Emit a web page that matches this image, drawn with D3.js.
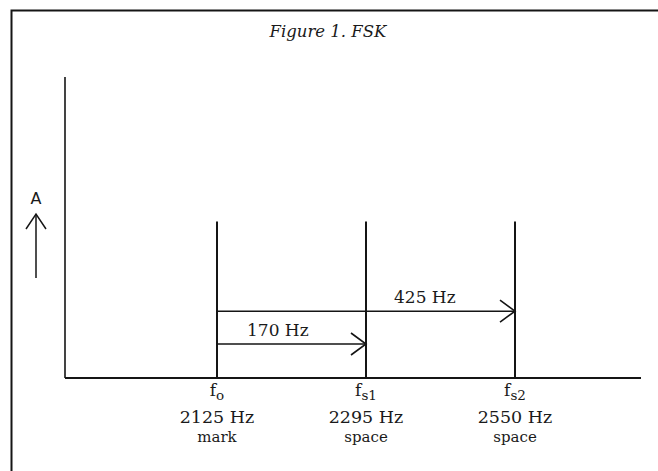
<!DOCTYPE html>
<html>
<head>
<meta charset="utf-8">
<script src="https://cdn.jsdelivr.net/npm/d3@7"></script>
<style>
  html, body { margin: 0; padding: 0; background: #fff; }
  svg { display: block; }
  text { fill: #1a1a1a; font-family: "DejaVu Serif", "Liberation Serif", serif; }
</style>
</head>
<body>
<script>
// FSK tone spectrum: one mark tone and two alternative space tones
const toneNames   = ["o", "s1", "s2"];          // subscripts of f
const toneFreqs   = [2125, 2295, 2550];         // Hz
const toneRoles   = ["mark", "space", "space"];
const toneAmps    = [0.52, 0.52, 0.52];         // relative amplitude
const shiftLabels = ["170 Hz", "425 Hz"];
const shiftTo     = [1, 2];                     // index of the space tone each shift reaches
const shiftLevels = [0.113, 0.222];             // height at which each shift arrow is drawn
const titleText   = "Figure 1. FSK";
const axisLabel   = "A";

const W = 658, H = 471;
const svg = d3.select("body").append("svg").attr("width", W).attr("height", H);

const ink = "#151515";

// frame
svg.append("path")
  .attr("d", `M11.5,${H} V10.5 H${W}`)
  .attr("fill", "none").attr("stroke", ink).attr("stroke-width", 2);

// title
svg.append("text")
  .attr("x", 328).attr("y", 37)
  .attr("text-anchor", "middle")
  .attr("font-style", "italic")
  .attr("font-size", 16.5)
  .text(titleText);

// plot area
const plot = { left: 65, right: 641, top: 77, bottom: 378 };

const x = d3.scalePoint()
  .domain(d3.range(toneFreqs.length))
  .range([plot.left + 152, plot.left + 450]);

const y = d3.scaleLinear().domain([0, 1]).range([plot.bottom, plot.top]);

// axes
svg.append("line")
  .attr("x1", plot.left).attr("x2", plot.left)
  .attr("y1", y(1)).attr("y2", y(0))
  .attr("stroke", ink).attr("stroke-width", 1.6);
svg.append("line")
  .attr("x1", plot.left).attr("x2", plot.right)
  .attr("y1", y(0)).attr("y2", y(0))
  .attr("stroke", ink).attr("stroke-width", 2);

// amplitude arrow and label
const aX = 36;
svg.append("line")
  .attr("x1", aX).attr("x2", aX).attr("y1", 278).attr("y2", 214)
  .attr("stroke", ink).attr("stroke-width", 1.5);
svg.append("path")
  .attr("d", `M${aX - 10},${229} L${aX},${214} L${aX + 10},${229}`)
  .attr("fill", "none").attr("stroke", ink).attr("stroke-width", 1.5);
svg.append("text")
  .attr("x", aX).attr("y", 204)
  .attr("text-anchor", "middle")
  .style("font-family", "'DejaVu Sans', sans-serif")
  .style("font-size", "16px")
  .text(axisLabel);

// spectral lines
svg.selectAll("line.tone")
  .data(toneAmps)
  .join("line")
  .attr("class", "tone")
  .attr("x1", (d, i) => x(i)).attr("x2", (d, i) => x(i))
  .attr("y1", d => y(d)).attr("y2", y(0))
  .attr("stroke", ink).attr("stroke-width", 2);

// frequency-shift arrows
const head = 15, half = 11;
const shifts = svg.selectAll("g.shift")
  .data(shiftLabels.map((label, k) => ({ label, to: shiftTo[k], level: shiftLevels[k] })))
  .join("g").attr("class", "shift");

shifts.append("line")
  .attr("x1", x(0)).attr("x2", d => x(d.to))
  .attr("y1", d => y(d.level)).attr("y2", d => y(d.level))
  .attr("stroke", ink).attr("stroke-width", 1.6);
shifts.append("path")
  .attr("d", d => {
    const tx = x(d.to), ty = y(d.level);
    return `M${tx - head},${ty - half} L${tx},${ty} L${tx - head},${ty + half}`;
  })
  .attr("fill", "none").attr("stroke", ink).attr("stroke-width", 1.6);
shifts.append("text")
  .attr("x", (d, k) => k === 0 ? x(0) + 30 : x(1) + 28)
  .attr("y", d => y(d.level) - 8)
  .attr("font-size", 17)
  .text(d => d.label);

// tone labels under the axis
const labels = svg.selectAll("g.toneLabel")
  .data(toneFreqs.map((f, i) => ({ f, name: toneNames[i], role: toneRoles[i], i })))
  .join("g").attr("class", "toneLabel")
  .attr("transform", d => `translate(${x(d.i)},0)`);

const sym = labels.append("text")
  .attr("y", 396)
  .attr("text-anchor", "middle")
  .attr("font-size", 17);
sym.append("tspan").text("f");
sym.append("tspan").attr("dy", 4).attr("font-size", 13.5).text(d => d.name);

labels.append("text")
  .attr("y", 423)
  .attr("text-anchor", "middle")
  .attr("font-size", 17.5)
  .text(d => `${d.f} Hz`);

labels.append("text")
  .attr("y", 442)
  .attr("text-anchor", "middle")
  .attr("font-size", 15)
  .text(d => d.role);
</script>
</body>
</html>
